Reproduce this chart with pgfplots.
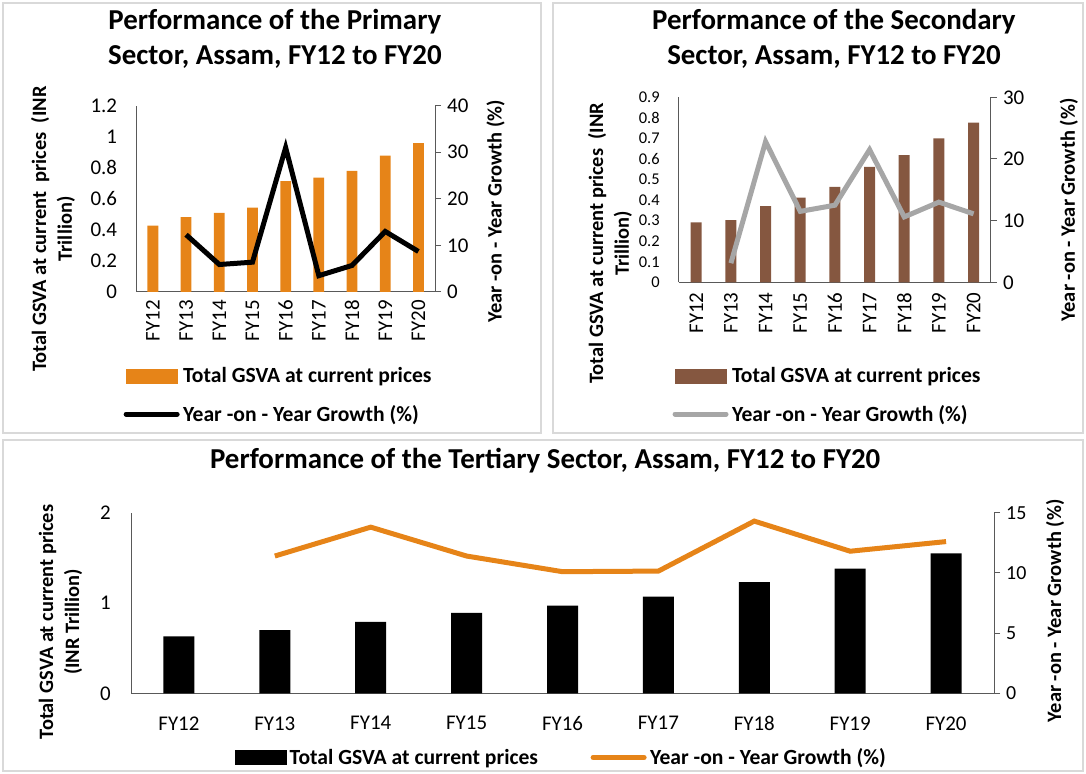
\documentclass[border=0pt]{standalone}
\usepackage{pgfplots}
\pgfplotsset{compat=1.18}
\usepackage{fontspec}
\setmainfont{Carlito}
\definecolor{cOrange}{RGB}{230,132,24}
\definecolor{cBrown}{RGB}{133,87,64}
\definecolor{cGray}{RGB}{166,166,166}
\definecolor{cPanel}{RGB}{217,217,217}
\definecolor{cAxis}{RGB}{89,89,89}
\pgfplotsset{
  base/.style={
    scale only axis, xmin=-0.5, xmax=8.5, xtick={0,1,2,3,4,5,6,7,8}, ymin=0,
    tick label style={font=\fontsize{21}{21}\selectfont, inner sep=0pt},
    /pgf/number format/assume math mode=true,
    axis line style={cAxis, line width=1bp},
    label style={font=\bfseries\fontsize{20.5}{26}\selectfont},
    title style={font=\bfseries\fontsize{29}{35}\selectfont, align=center, anchor=center},
  },
  leftax/.style={base, axis x line*=bottom, axis y line*=left,
    xticklabels={FY12,FY13,FY14,FY15,FY16,FY17,FY18,FY19,FY20},
    major tick length=0pt, xtick style={draw=none}, ytick style={draw=none}},
  rightax/.style={base, axis x line=none, axis y line*=right,
    tick align=outside, major tick length=6bp, ytick style={cAxis, line width=1bp},
    yticklabel shift=6bp,
    legend cell align=left,
    legend style={draw=none, fill=none, inner sep=0pt,
      font=\bfseries\fontsize{21.7}{25}\selectfont, nodes={inner sep=3.5bp}}},
}
\begin{document}
\begin{tikzpicture}[x=1bp,y=1bp]
\path[use as bounding box] (0,0) rectangle (1086,774);
\draw[cPanel, line width=2bp] (3,341) rectangle (541,771);
\draw[cPanel, line width=2bp] (553,341) rectangle (1083,771);
\draw[cPanel, line width=2bp] (3,3) rectangle (1083,334);

% ---------------- Primary ----------------
\begin{axis}[leftax, at={(136.3bp,482bp)}, anchor=south west, width=298.7bp, height=186.3bp,
  ymax=1.2, ytick={0,0.2,0.4,0.6,0.8,1,1.2}, yticklabel shift=19bp,
  x tick label style={rotate=90, anchor=east}, xticklabel shift=8bp,
  ylabel={Total GSVA at current\ \ prices\ \ (INR\\Trillion)},
  ylabel style={align=center, at={(axis description cs:-0.279,0.338)}, anchor=center},
  title={Performance of the Primary\\Sector, Assam, FY12 to FY20},
  title style={at={(axis description cs:0.464,1.328)}}]
\addplot[ybar, bar width=10.8bp, fill=cOrange, draw=none] coordinates {
(0,0.428) (1,0.482) (2,0.51) (3,0.544) (4,0.714) (5,0.737) (6,0.78) (7,0.879) (8,0.959)};
\end{axis}
\begin{axis}[rightax, at={(136.3bp,482bp)}, anchor=south west, width=298.7bp, height=186.3bp,
  ymax=40, ytick={0,10,20,30,40},
  ylabel={Year -on - Year Growth (\%)},
  ylabel style={at={(axis description cs:1.2026,0.432)}, anchor=center},
  legend style={at={(axis description cs:-0.043,-0.386)}, anchor=north west, row sep=14bp}]
\addlegendimage{legend image code/.code={\fill[cOrange] (0bp,-7bp) rectangle (51bp,7bp);}}
\addlegendentry{Total GSVA at current prices}
\addplot[black, line width=5bp, legend image code/.code={\draw[black, line width=5bp, line cap=round] (0bp,0bp) -- (51bp,0bp);}] coordinates {
(1,12.3) (2,5.9) (3,6.4) (4,31.0) (5,3.5) (6,5.7) (7,13.0) (8,8.7)};
\addlegendentry{Year -on - Year Growth (\%)}
\end{axis}

% ---------------- Secondary ----------------
\begin{axis}[leftax, at={(678.9bp,491.7bp)}, anchor=south west, width=312bp, height=185bp,
  ymax=0.9, ytick={0,0.1,0.2,0.3,0.4,0.5,0.6,0.7,0.8,0.9}, yticklabel shift=19bp,
  yticklabel style={font=\fontsize{16.5}{16.5}\selectfont},
  x tick label style={rotate=90, anchor=east}, xticklabel shift=10bp,
  ylabel={Total GSVA at current prices\ \ (INR\\Trillion)},
  ylabel style={align=center, at={(axis description cs:-0.221,0.212)}, anchor=center},
  title={Performance of the Secondary\\Sector, Assam, FY12 to FY20},
  title style={at={(axis description cs:0.497,1.285)}}]
\addplot[ybar, bar width=11bp, fill=cBrown, draw=none] coordinates {
(0,0.292) (1,0.302) (2,0.37) (3,0.412) (4,0.464) (5,0.561) (6,0.619) (7,0.70) (8,0.777)};
\end{axis}
\begin{axis}[rightax, at={(678.9bp,491.7bp)}, anchor=south west, width=312bp, height=185bp,
  ymax=30, ytick={0,10,20,30},
  ylabel={Year -on - Year Growth (\%)},
  ylabel style={at={(axis description cs:1.25,0.391)}, anchor=center},
  legend style={at={(axis description cs:-0.021,-0.441)}, anchor=north west, row sep=14bp}]
\addlegendimage{legend image code/.code={\fill[cBrown] (0bp,-7bp) rectangle (51bp,7bp);}}
\addlegendentry{Total GSVA at current prices}
\addplot[cGray, line width=5bp, legend image code/.code={\draw[cGray, line width=5bp, line cap=round] (0bp,0bp) -- (51bp,0bp);}] coordinates {
(1,3.1) (2,22.8) (3,11.5) (4,12.5) (5,21.5) (6,10.6) (7,13.0) (8,11.1)};
\addlegendentry{Year -on - Year Growth (\%)}
\end{axis}

% ---------------- Tertiary ----------------
\begin{axis}[leftax, at={(131bp,80.7bp)}, anchor=south west, width=863bp, height=180.6bp,
  ymax=2, ytick={0,1,2}, yticklabel shift=20bp,
  xticklabel shift=23bp,
  ylabel={Total GSVA at current prices\\(INR Trillion)},
  ylabel style={align=center, at={(axis description cs:-0.0817,0.395)}, anchor=center},
  title={Performance of the Tertiary Sector, Assam, FY12 to FY20},
  title style={at={(axis description cs:0.48,1.253)}}]
\addplot[ybar, bar width=31bp, fill=black, draw=none] coordinates {
(0,0.63) (1,0.70) (2,0.79) (3,0.89) (4,0.97) (5,1.07) (6,1.23) (7,1.38) (8,1.55)};
\end{axis}
\begin{axis}[rightax, at={(131bp,80.7bp)}, anchor=south west, width=863bp, height=180.6bp,
  ymax=15, ytick={0,5,10,15},
  yticklabel style={font=\fontsize{20}{20}\selectfont},
  ylabel={Year -on - Year Growth (\%)},
  ylabel style={at={(axis description cs:1.0707,0.456)}, anchor=center},
  legend columns=2,
  legend style={at={(axis description cs:0.12,-0.286)}, anchor=north west,
    /tikz/every even column/.append style={column sep=49bp}}]
\addlegendimage{legend image code/.code={\fill[black] (0bp,-7bp) rectangle (51bp,7bp);}}
\addlegendentry{Total GSVA at current prices}
\addplot[cOrange, line width=5bp, legend image code/.code={\draw[cOrange, line width=5bp, line cap=round] (0bp,0bp) -- (51bp,0bp);}] coordinates {
(1,11.4) (2,13.8) (3,11.4) (4,10.1) (5,10.15) (6,14.3) (7,11.8) (8,12.6)};
\addlegendentry{Year -on - Year Growth (\%)}
\end{axis}
\end{tikzpicture}
\end{document}
